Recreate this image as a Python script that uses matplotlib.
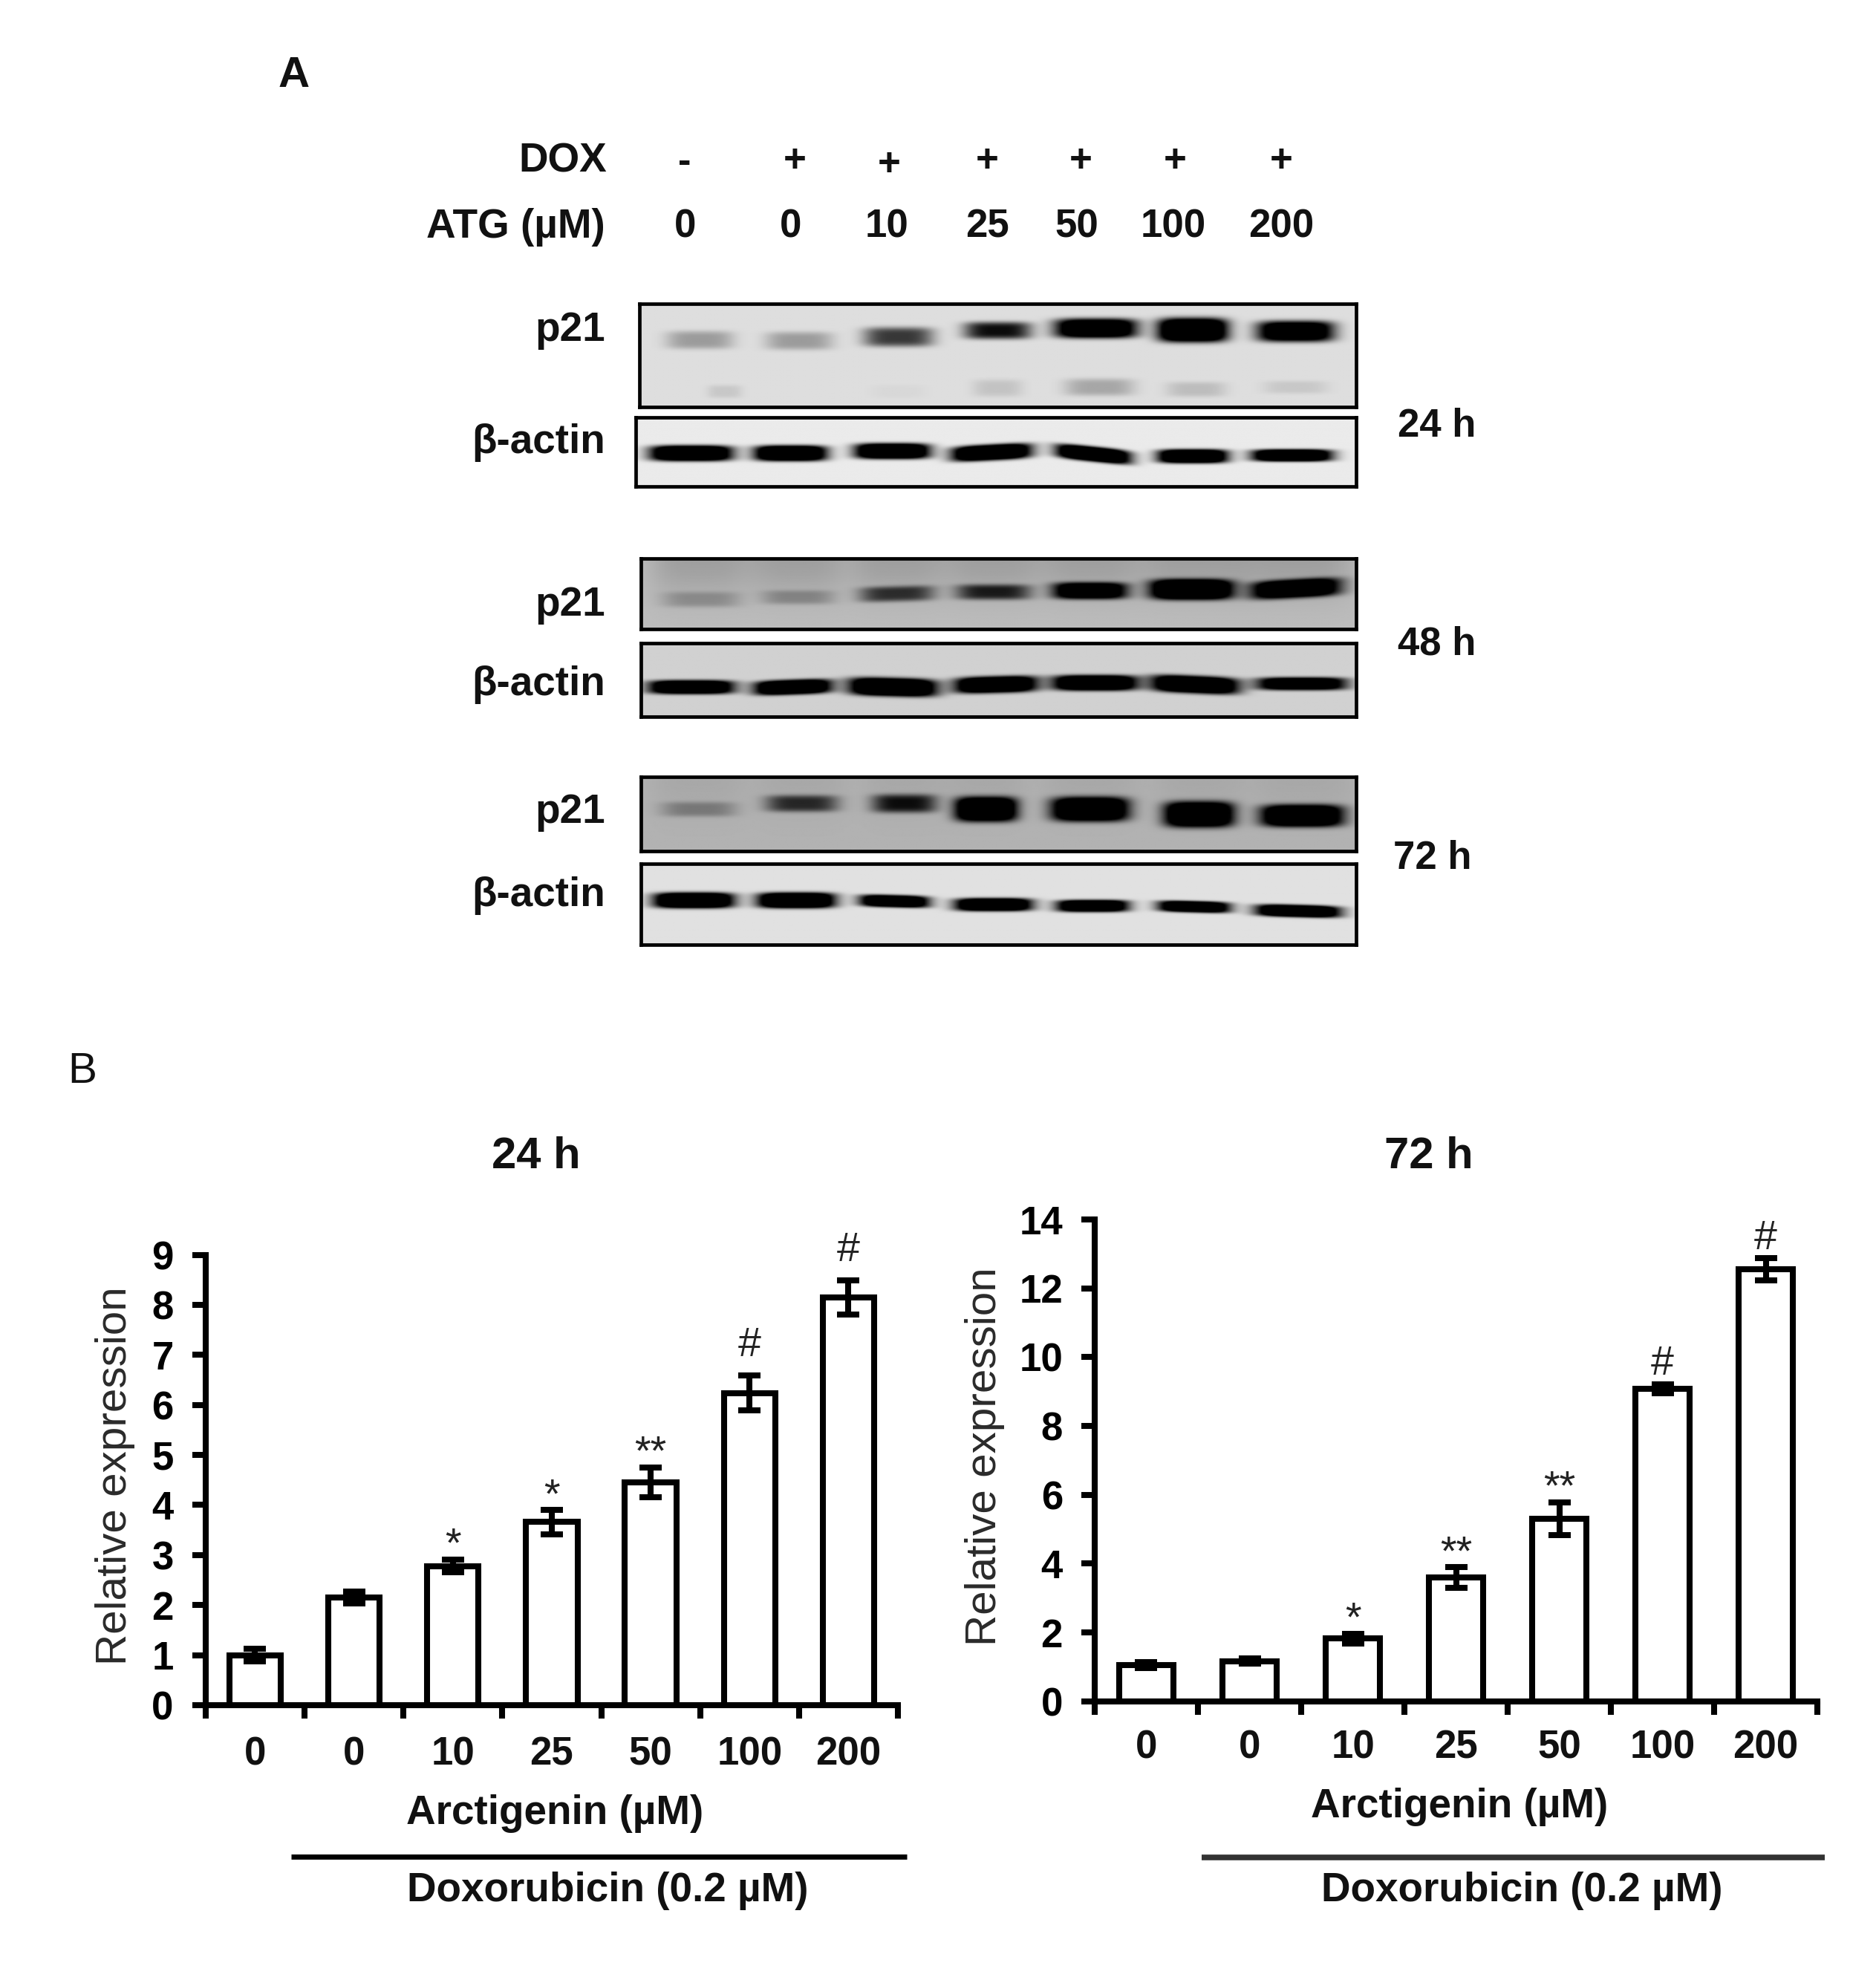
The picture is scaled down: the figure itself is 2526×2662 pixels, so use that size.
import numpy as np
import matplotlib
matplotlib.use('Agg')
import matplotlib.pyplot as plt

plt.rcParams['font.family'] = ['Liberation Sans', 'DejaVu Sans']

# bar chart values (panel B)
doses = ['0', '0', '10', '25', '50', '100', '200']
vals_24h = [1.0, 2.15, 2.78, 3.66, 4.45, 6.24, 8.15]
errs_24h = [0.12, 0.12, 0.13, 0.24, 0.30, 0.35, 0.34]
sig_24h = ['', '', '*', '*', '**', '#', '#']
vals_72h = [1.05, 1.17, 1.82, 3.60, 5.30, 9.08, 12.55]
errs_72h = [0.08, 0.08, 0.15, 0.30, 0.48, 0.13, 0.32]
sig_72h = ['', '', '*', '**', '**', '#', '#']

# lane labels (panel A)
dox_signs = ['-', '+', '+', '+', '+', '+', '+']
atg_doses = ['0', '0', '10', '25', '50', '100', '200']

# band strength read from the blots, lane by lane
p21_24_main = [0.30, 0.30, 0.75, 0.95, 1.6, 1.8, 1.5]
p21_24_low = [0.10, 0.03, 0.12, 0.25, 0.15, 0.10, 0.12]
actin_24 = [1.8, 1.8, 1.8, 1.8, 1.8, 1.8, 1.8]
p21_48 = [0.22, 0.25, 0.70, 0.80, 1.5, 1.9, 1.6]
actin_48 = [1.8, 1.8, 1.9, 1.8, 1.8, 1.8, 1.6]
p21_72 = [0.30, 0.75, 0.90, 1.8, 1.8, 1.8, 1.8]
actin_72 = [1.9, 1.9, 1.7, 1.8, 1.7, 1.7, 1.8]

W, H = 1487.5, 1567.6   # layout units, scaled up to the saved size
LW = 5.8


def add_axes(fig, x0, y0, x1, y1):
    return fig.add_axes([x0 / W, 1 - y1 / H, (x1 - x0) / W, (y1 - y0) / H])


def draw_blot(fig, box, bg, strengths, xs, ys, ws, hs, tilts=None, zbox=(0, 1440, 0, 100), smear=0.0):
    x0, y0, x1, y1 = box
    zx = np.linspace(zbox[0], zbox[1], 360)
    zy = np.linspace(zbox[2], zbox[3], 120)
    X, Y = np.meshgrid(zx, zy)
    dark = np.zeros_like(X)
    tilts = tilts if tilts is not None else [0] * len(xs)
    for s, cx, cy, w, h, t in zip(strengths, xs, ys, ws, hs, tilts):
        dx = (X - cx) / (w / 2)
        dy = (Y - cy - t * (X - cx)) / (h / 2)
        dark += s * np.exp(-dx ** 4) * np.exp(-dy ** 4)
        if smear:
            # the lanes carry a darker haze above the band
            dark += smear * np.exp(-(dx * 0.75) ** 4) * np.exp(-((Y - zbox[2]) / (zbox[3] - zbox[2]) / 0.55) ** 2)
    img = np.clip(bg * (1 - np.clip(dark, 0, 1.0)), 0, 1)
    ax = add_axes(fig, x0, y0, x1, y1)
    ax.imshow(img, cmap='gray', vmin=0, vmax=1, aspect='auto', interpolation='bilinear')
    ax.set_xticks([])
    ax.set_yticks([])
    for sp in ax.spines.values():
        sp.set_linewidth(3.4)
        sp.set_color('black')


def draw_bars(fig, box, vals, errs, sig, ymax, ystep, star_pad, hash_pad, xpad):
    ax = add_axes(fig, *box)
    pos = np.arange(len(vals)) + 0.5
    ax.bar(pos, vals, width=0.52, facecolor='white', edgecolor='black', linewidth=LW, zorder=2)
    ax.errorbar(pos, vals, yerr=errs, fmt='none', ecolor='black', elinewidth=LW, capsize=11, capthick=LW, zorder=3)
    for x, v, e, s in zip(pos, vals, errs, sig):
        if s:
            pad = hash_pad if s == '#' else star_pad
            ax.text(x, v + e + pad, s, ha='center', va='center', fontsize=40, color='#222222')
    ax.set_xlim(0, len(vals))
    ax.set_ylim(0, ymax)
    for side in ['top', 'right']:
        ax.spines[side].set_visible(False)
    for side in ['left', 'bottom']:
        ax.spines[side].set_linewidth(LW)
    ax.set_xticks(np.arange(len(vals) + 1))
    ax.set_xticklabels([])
    ax.set_xticks(pos, minor=True)
    ax.set_xticklabels(doses, minor=True, fontsize=38, fontweight='bold', color='#111111')
    ax.tick_params(axis='x', which='major', length=13, width=LW, direction='out')
    ax.tick_params(axis='x', which='minor', length=0, pad=xpad)
    ax.set_yticks(np.arange(0, ymax + 1, ystep))
    ax.tick_params(axis='y', length=13, width=LW, labelsize=38, pad=18)
    for lab in ax.get_yticklabels():
        lab.set_fontweight('bold')
    ax.patch.set_alpha(0)
    return ax


def main():
    fig = plt.figure(figsize=(25.26, 26.62), dpi=100)
    overlay = fig.add_axes([0, 0, 1, 1])
    overlay.set_xlim(0, W)
    overlay.set_ylim(H, 0)
    overlay.axis('off')

    def label(x, y, s, ha='center', size=39.5, weight='bold', color='#111111', **kw):
        overlay.text(x, y + 2, s, ha=ha, va='center', fontsize=size, fontweight=weight, color=color, **kw)

    label(233, 58, 'A', size=42)
    label(65, 848, 'B', size=42, weight='normal')

    label(481, 126, 'DOX', ha='right')
    label(480, 178, 'ATG (µM)', ha='right')
    for x, y, s in zip([543, 630, 705, 783, 857, 932, 1016], [127, 126, 129, 126, 126, 126, 126], dox_signs):
        label(x, y, s, size=38)
    for x, s in zip([543, 627, 703, 783, 854, 930, 1016], atg_doses):
        label(x, 178, s, size=38)

    for y, s in [(260, 'p21'), (349, 'β-actin'), (478, 'p21'), (541, 'β-actin'), (642, 'p21'), (708, 'β-actin')]:
        label(480, y, s, ha='right')
    label(1139, 336, '24 h', size=38)
    label(1139, 509, '48 h', size=38)
    label(1136, 679, '72 h', size=38)

    # p21 24 h has a faint second row of bands underneath the main one
    draw_blot(fig, (507, 241, 1075, 323), 0.87,
              p21_24_main + p21_24_low,
              [120, 320, 520, 720, 918, 1113, 1320, 170, 520, 720, 925, 1120, 1320],
              [85, 87, 78, 63, 58, 62, 65, 205, 205, 197, 195, 200, 195],
              [135, 135, 140, 135, 165, 140, 155, 70, 110, 100, 140, 120, 130],
              [42, 42, 45, 40, 45, 55, 48, 30, 30, 40, 40, 35, 30],
              zbox=(0, 1440, 0, 240))
    draw_blot(fig, (504, 331, 1075, 386), 0.92, actin_24,
              [110, 310, 515, 715, 920, 1120, 1320],
              [85, 85, 80, 83, 87, 92, 90],
              [165, 145, 150, 160, 150, 140, 160],
              [36, 36, 36, 36, 34, 32, 28],
              tilts=[0, 0, 0, -0.06, 0.12, 0, 0], zbox=(0, 1447, 0, 162))
    draw_blot(fig, (508, 443, 1075, 499), 0.74, p21_48,
              [120, 315, 515, 710, 905, 1110, 1320],
              [95, 90, 82, 78, 75, 72, 70],
              [155, 145, 150, 150, 150, 165, 180],
              [35, 32, 35, 35, 38, 46, 42],
              tilts=[0, 0, -0.03, 0, 0, 0, -0.06], zbox=(0, 1440, 0, 162), smear=0.16)
    draw_blot(fig, (508, 510, 1075, 568), 0.82, actin_48,
              [100, 305, 507, 715, 915, 1117, 1332],
              [103, 103, 103, 97, 93, 97, 95],
              [170, 155, 175, 165, 170, 175, 180],
              [32, 34, 42, 38, 36, 40, 30],
              tilts=[0, -0.04, 0.03, -0.03, 0, 0.05, 0], zbox=(0, 1440, 0, 172))
    draw_blot(fig, (508, 616, 1075, 675), 0.70, p21_72,
              [115, 323, 530, 695, 905, 1125, 1333],
              [75, 62, 62, 75, 75, 87, 90],
              [150, 145, 130, 125, 155, 140, 165],
              [34, 38, 42, 56, 55, 58, 50],
              zbox=(0, 1440, 0, 170), smear=0.06)
    draw_blot(fig, (508, 685, 1075, 749), 0.88, actin_72,
              [105, 312, 510, 710, 910, 1115, 1325],
              [85, 85, 87, 95, 98, 100, 110],
              [160, 155, 140, 155, 145, 145, 170],
              [36, 36, 28, 30, 28, 26, 28],
              tilts=[0, 0, 0.03, 0, 0, 0.03, 0.03], zbox=(0, 1440, 0, 188))

    label(425, 915, '24 h', size=43)
    label(1133, 915, '72 h', size=43)

    draw_bars(fig, (163, 995, 712, 1352), vals_24h, errs_24h, sig_24h, 9, 1, 0.27, 0.60, 30)
    draw_bars(fig, (868, 967, 1441, 1349), vals_72h, errs_72h, sig_72h, 14, 2, 0.39, 0.58, 27)

    label(91, 1168, 'Relative expression', rotation=90, weight='normal', color='#2a2a2a', size=42)
    label(781, 1153, 'Relative expression', rotation=90, weight='normal', color='#2a2a2a', size=42)

    label(440, 1436, 'Arctigenin (µM)')
    overlay.plot([231, 719], [1472, 1472], color='black', lw=5, solid_capstyle='butt')
    label(482, 1497, 'Doxorubicin (0.2 µM)')

    label(1157, 1431, 'Arctigenin (µM)')
    overlay.plot([953, 1447], [1473, 1473], color='#333333', lw=5.5, solid_capstyle='butt')
    label(1207, 1497, 'Doxorubicin (0.2 µM)')

    fig.savefig('out.png', dpi=100, facecolor='white')


if __name__ == '__main__':
    main()
